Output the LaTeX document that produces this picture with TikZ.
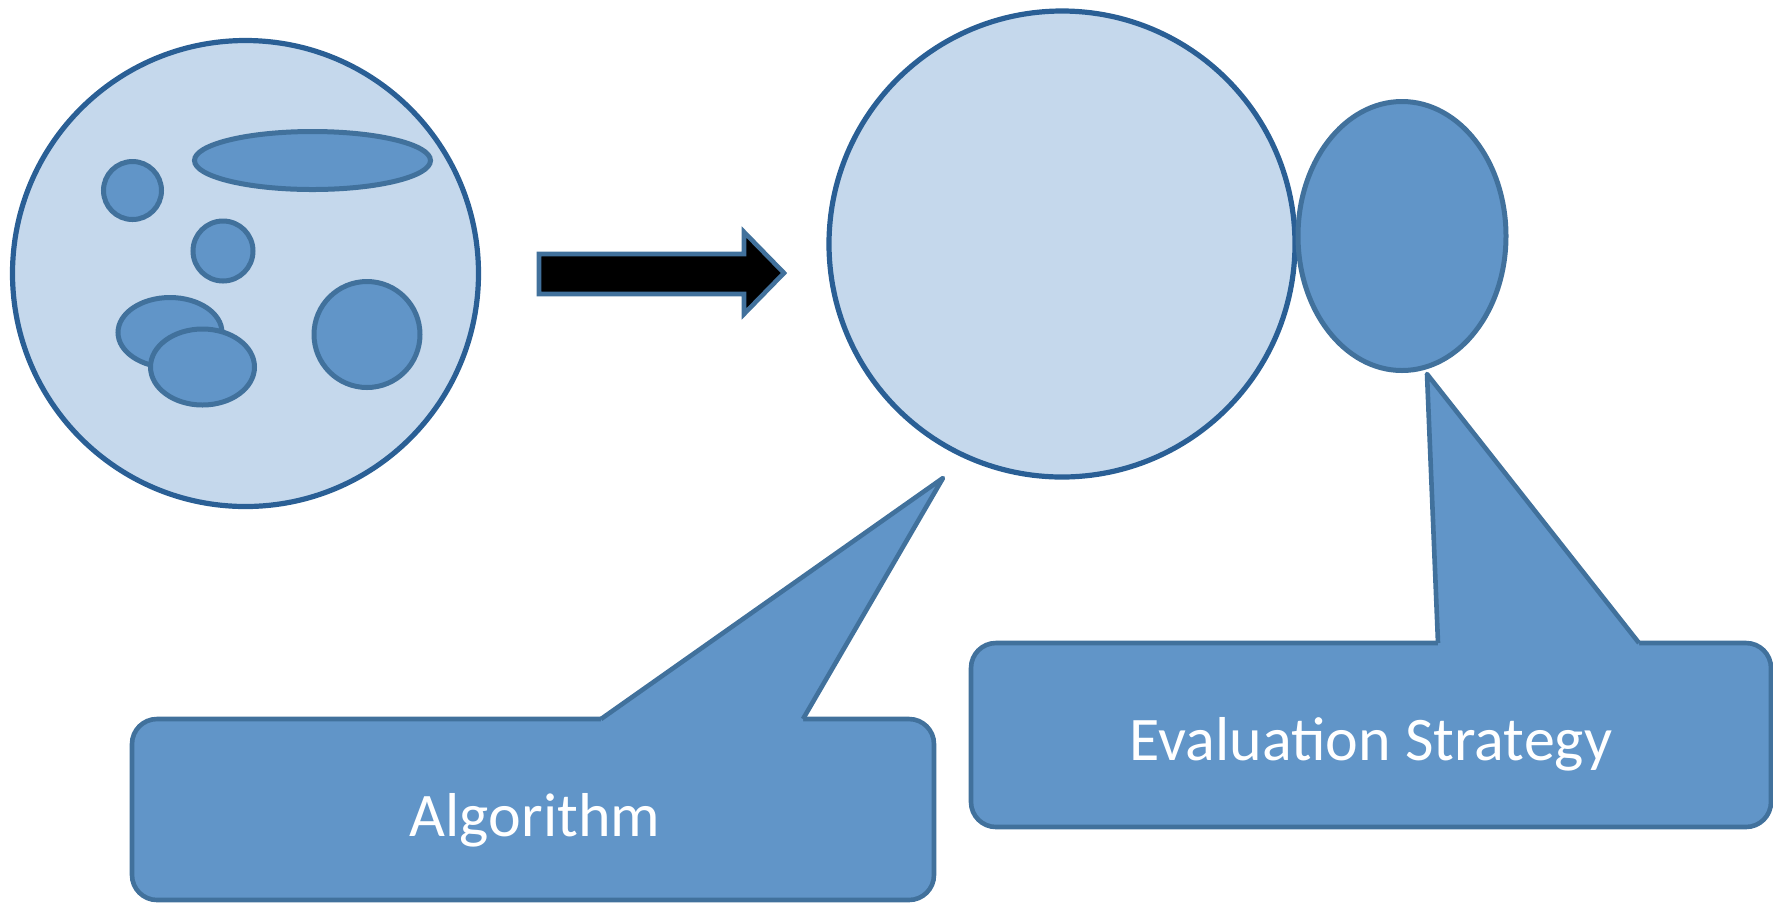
\documentclass[tikz,border=0pt]{standalone}
\usepackage{fontspec}
\setmainfont{Carlito}
\usetikzlibrary{shapes.geometric}
\definecolor{lightfill}{HTML}{C5D8EC}
\definecolor{midfill}{HTML}{6195C8}
\definecolor{bigline}{HTML}{2A5F95}
\definecolor{smallline}{HTML}{41719C}
\begin{document}
\begin{tikzpicture}[x=0.5pt,y=-0.5pt,
  bigcirc/.style={circle, draw=bigline, fill=lightfill, line width=2.6pt, inner sep=0pt, minimum size=233pt},
  blob/.style={ellipse, draw=smallline, fill=midfill, line width=2.5pt, inner sep=0pt},
  callbox/.style={rectangle, rounded corners=12.5pt, draw=smallline, fill=midfill, line width=2.3pt, inner sep=0pt},
  tailfill/.style={fill=midfill},
  tailedge/.style={draw=smallline, line width=2.3pt, line join=round},
  lbl/.style={text=white, font=\fontsize{31}{37}\selectfont, inner sep=0pt, anchor=base},
  bigarrow/.style={fill=black, draw=smallline, line width=2.3pt, line join=miter}]
\useasboundingbox (0,0) rectangle (1773,902);

% left population circle
\node[bigcirc] (pop) at (245.5,273.5) {};
\node[blob, minimum width=29pt, minimum height=29pt] (c1) at (132.5,190.5) {};
\node[blob, minimum width=118pt, minimum height=29pt] (e1) at (312.5,160.5) {};
\node[blob, minimum width=30pt, minimum height=30pt] (c2) at (223,251) {};
\node[blob, minimum width=52pt, minimum height=35pt] (e2) at (170,332.5) {};
\node[blob, minimum width=52pt, minimum height=38pt] (e3) at (202.5,367) {};
\node[blob, minimum width=53pt, minimum height=53pt] (c3) at (367,334.5) {};

% block arrow
\draw[bigarrow] (539,254) -- (744,254) -- (744,232) -- (784,273) -- (744,314) -- (744,294) -- (539,294) -- cycle;

% right circle and ellipse
\node[bigcirc] (alg) at (1062,244) {};
\node[blob, minimum width=104pt, minimum height=134.5pt] (ev) at (1402,236) {};

% Algorithm callout
\node[callbox, minimum width=401pt, minimum height=90.5pt] (algbox) at (533,809.5) {};
\coordinate (a1) at (601,719);
\coordinate (a2) at (803,719);
\coordinate (at) at (943,478);
\fill[tailfill] (a1) -- (at) -- (a2) -- (803,724) -- (601,724) -- cycle;
\draw[tailedge] (a1) -- (at) -- (a2);
\node[lbl] (algtext) at (535,836) {Algorithm};

% Evaluation Strategy callout
\node[callbox, minimum width=400pt, minimum height=92pt] (evbox) at (1371,735) {};
\coordinate (b1) at (1438,643);
\coordinate (b2) at (1639,643);
\coordinate (bt) at (1427,374);
\fill[tailfill] (b1) -- (bt) -- (b2) -- (1639,648) -- (1438,648) -- cycle;
\draw[tailedge] (b1) -- (bt) -- (b2);
\node[lbl] (evtext) at (1371,760) {Evaluation Strategy};
\end{tikzpicture}
\end{document}
